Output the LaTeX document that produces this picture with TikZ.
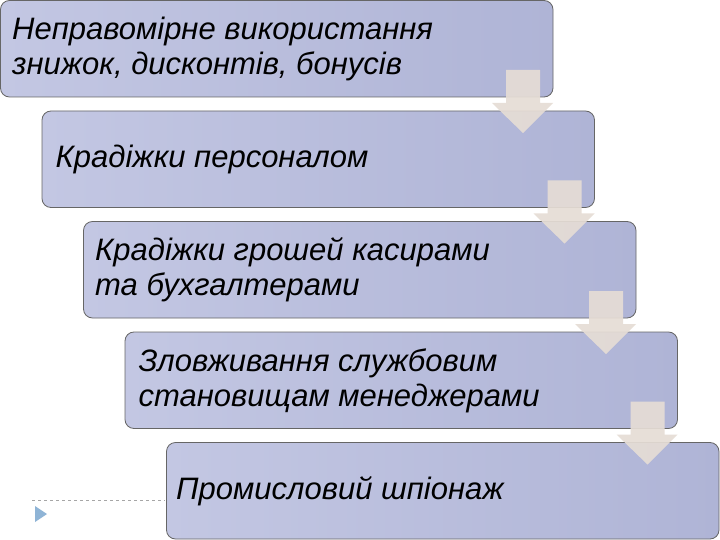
\documentclass[tikz,border=0pt]{standalone}
\usepackage{fontspec}
\setmainfont{Liberation Sans}
\begin{document}
\begin{tikzpicture}[x=1pt,y=-1pt,
  stepbox/.style={draw=black!60, line width=0.8pt, rounded corners=9pt,
    left color=boxl, right color=boxr, shading angle=90},
  steptext/.style={anchor=west, align=left, font=\fontsize{31}{35}\selectfont\itshape, text=black, inner sep=0pt},
  downarrow/.style={fill=arrowc, draw=none, fill opacity=0.92}]
\definecolor{boxl}{HTML}{C3C7E3}
\definecolor{boxr}{HTML}{AFB4D6}
\definecolor{arrowc}{HTML}{E6DDD5}
\definecolor{triblue}{HTML}{8FB4D6}
\useasboundingbox (0,0) rectangle (720,540);
\fill[white] (0,0) rectangle (720,540);
% boxes
\foreach \i/\dx/\dy in {1/0/0,2/41.5/110.5,3/83/221,4/124.5/331.5,5/166/442}{
  \path[stepbox] (\dx+0.5,\dy+0.5) rectangle (\dx+553,\dy+97);
  \coordinate (b\i) at (\dx+12,\dy+49);
}
% arrows
\foreach \dx/\dy in {0/0,41.5/110.5,83/221,124.5/331.5}{
  \path[downarrow] (\dx+506,\dy+70) -- (\dx+540,\dy+70) -- (\dx+540,\dy+103)
    -- (\dx+553,\dy+103) -- (\dx+523,\dy+133) -- (\dx+492,\dy+103) -- (\dx+506,\dy+103) -- cycle;
}
\node[steptext] (t1) at (b1) {Неправомірне використання\\знижок, дисконтів, бонусів};
\node[steptext] (t2) at ([xshift=2pt]b2) {Крадіжки персоналом};
\node[steptext] (t3) at (b3) {Крадіжки грошей касирами\\та бухгалтерами};
\node[steptext] (t4) at ([xshift=2pt]b4) {Зловживання службовим\\становищам менеджерами};
\node[steptext] (t5) at ([xshift=-2pt]b5) {Промисловий шпіонаж};
% bottom-left decoration
\coordinate (dl) at (32,500);
\coordinate (dr) at (165,500);
\draw[gray!70, dashed, line width=0.6pt] (dl) -- (dr);
\fill[triblue] (35,506) -- (47,514) -- (35,522) -- cycle;
\end{tikzpicture}
\end{document}
